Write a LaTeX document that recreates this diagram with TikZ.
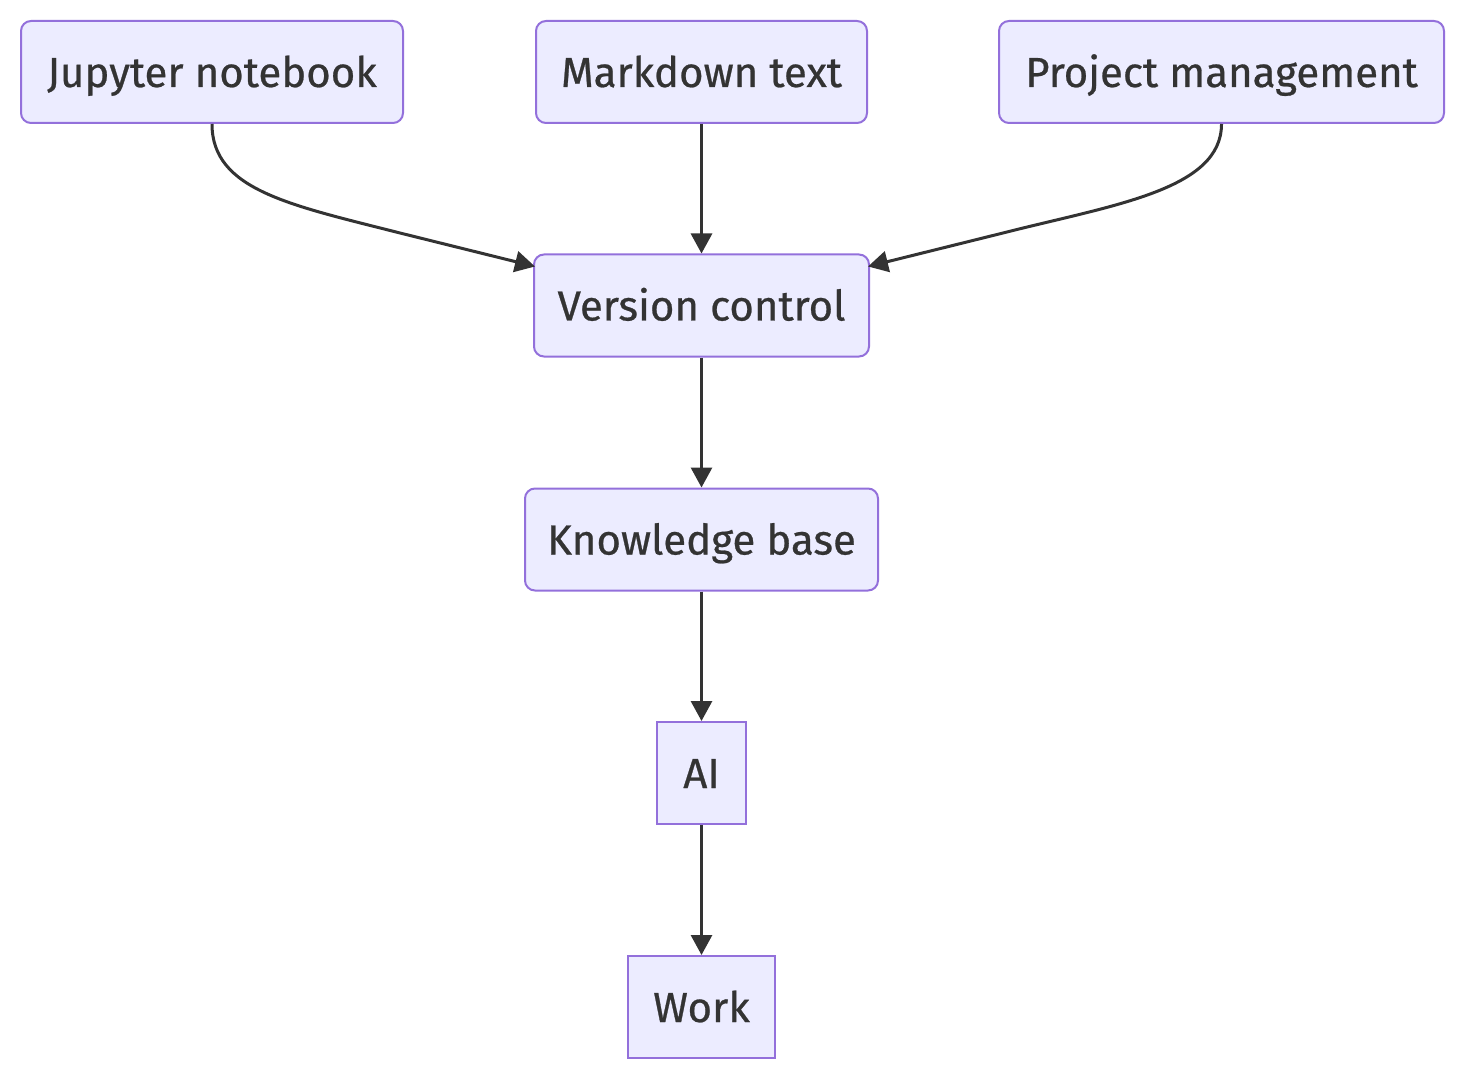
\documentclass[tikz,border=0pt]{standalone}
\usepackage{fontspec}
\setmainfont{Fira Sans}
\newfontfamily\boxfont{Fira Sans}[FakeBold=0.6]
\usepackage{tikz}
\usetikzlibrary{calc}
\usetikzlibrary{positioning}
\usetikzlibrary{arrows.meta}

\definecolor{boxfill}{HTML}{ECECFF}
\definecolor{boxline}{HTML}{9370DB}
\definecolor{ink}{HTML}{333333}

\tikzset{
	flowbox/.style={draw=boxline, fill=boxfill, line width=1pt, rounded corners=5pt,
		text=ink, inner sep=0pt, minimum height=51pt, text height=15pt, text depth=0pt,
		font=\boxfont\fontsize{21}{25}\selectfont},
	flatbox/.style={flowbox, rounded corners=0pt},
	link/.style={draw=ink, line width=1.5pt, -{Triangle[length=10pt,width=10.5pt]}}
}

\begin{document}
\begin{tikzpicture}[x=0.5pt, y=-0.5pt]
			\useasboundingbox (0,0) rectangle (1465,1080);

			\node[flowbox, minimum width=191pt] (jup) at (212,72) {Jupyter notebook};
			\node[flowbox, minimum width=165.5pt] (md) at (701.5,72) {Markdown text};
			\node[flowbox, minimum width=222.5pt] (pm) at (1221.5,72) {Project management};

			\node[flowbox, minimum width=167.5pt] (vc) at (701.5,305.5) {Version control};
			\node[flowbox, minimum width=176.5pt] (kb) at (701.5,539.5) {Knowledge base};
			\node[flatbox, minimum width=44.5pt] (ai) at (701.5,773) {AI};
			\node[flatbox, minimum width=73.5pt] (work) at (701.5,1007) {Work};

			\path[link] (jup.south) .. controls (212,190) and (290,205) .. (400,233) -- ($(vc.north west)+(2,13)$);
			\path[link] (md.south) -- (vc.north);
			\path[link] (pm.south) .. controls (1221.5,190) and (1113,205) .. (1003,233) -- ($(vc.north east)+(-2,13)$);
			\path[link] (vc.south) -- (kb.north);
			\path[link] (kb.south) -- (ai.north);
			\path[link] (ai.south) -- (work.north);
        \end{tikzpicture}
\end{document}
